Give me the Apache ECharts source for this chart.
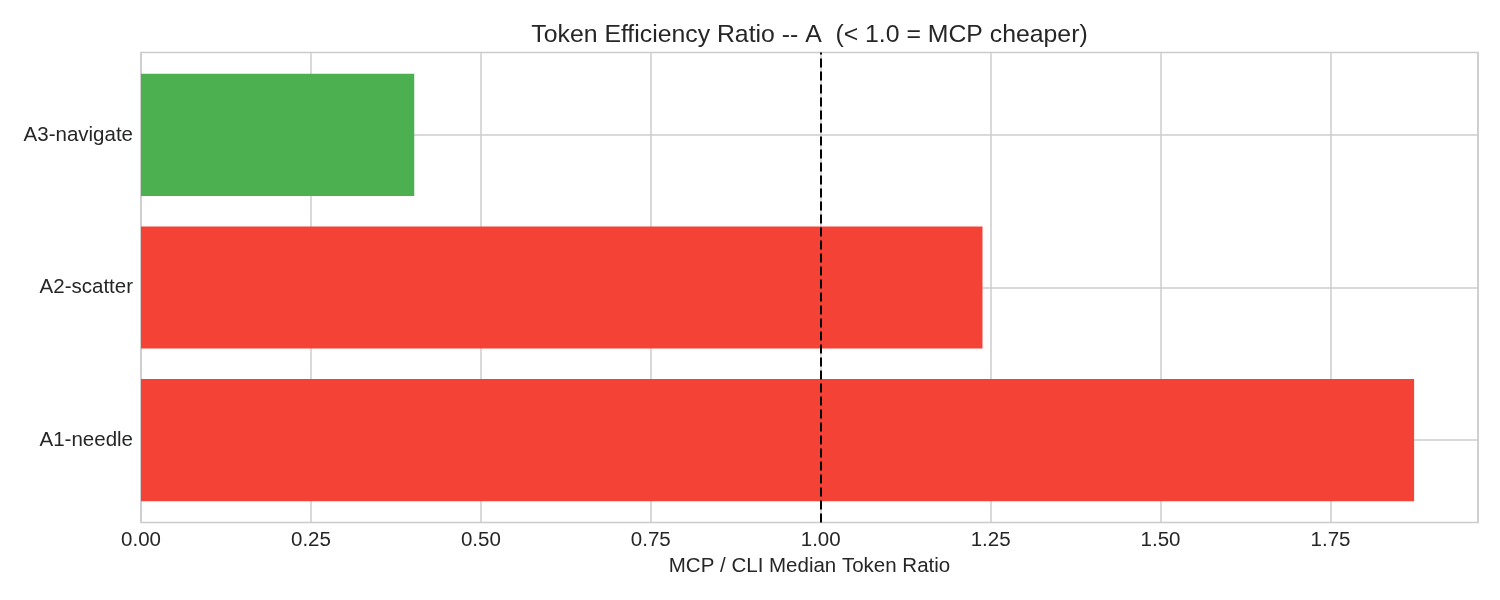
<!DOCTYPE html>
<html>
<head>
<meta charset="utf-8">
<script src="https://cdn.jsdelivr.net/npm/echarts@6/dist/echarts.min.js"></script>
<style>
  html, body { margin: 0; padding: 0; background: #fff; }
  #chart { width: 1500px; height: 600px; }
</style>
</head>
<body>
<div id="chart"></div>
<script>
// data
var categories = ['A1-needle', 'A2-scatter', 'A3-navigate'];
var ratios = [1.873, 1.238, 0.402];
var breakEven = 1.0;
var xMax = 1.967;

var font = '"Liberation Sans", Arial, sans-serif';
var textColor = '#262626';
var gridColor = '#cccccc';

var chart = echarts.init(document.getElementById('chart'));

var option = {
  animation: false,
  title: {
    text: 'Token Efficiency Ratio -- A  (< 1.0 = MCP cheaper)',
    left: 809.5,
    top: 23,
    padding: 0,
    textAlign: 'center',
    textStyle: {
      color: textColor,
      fontFamily: font,
      fontSize: 24.8,
      fontWeight: 'normal'
    }
  },
  // grid 0: axes frame, x ticks and vertical grid lines
  // grid 1: the bars, inset by matplotlib's 5% y margin
  grid: [{
    left: 141,
    right: 22,
    top: 52.5,
    bottom: 77.5,
    show: true,
    borderColor: gridColor,
    borderWidth: 1.5,
    backgroundColor: 'transparent'
  }, {
    left: 141,
    right: 22,
    top: 58.6,
    bottom: 83.6
  }],
  xAxis: [{
    gridIndex: 0,
    type: 'value',
    min: 0,
    max: xMax,
    interval: 0.25,
    name: 'MCP / CLI Median Token Ratio',
    nameLocation: 'middle',
    nameGap: 33,
    nameTextStyle: {
      color: textColor,
      fontFamily: font,
      fontSize: 20.5
    },
    axisLine: { show: false },
    axisTick: { show: false },
    axisLabel: {
      color: textColor,
      fontFamily: font,
      fontSize: 20.5,
      margin: 7,
      showMaxLabel: false,
      formatter: function (v) { return v.toFixed(2); }
    },
    splitLine: {
      show: true,
      lineStyle: { color: gridColor, width: 1.5 }
    }
  }, {
    gridIndex: 1,
    type: 'value',
    min: 0,
    max: xMax,
    show: false
  }],
  yAxis: [{
    gridIndex: 0,
    type: 'value',
    min: 0,
    max: 1,
    show: false
  }, {
    gridIndex: 1,
    type: 'category',
    data: categories,
    axisLine: { show: false },
    axisTick: { show: false },
    axisLabel: {
      color: textColor,
      fontFamily: font,
      fontSize: 20.5,
      margin: 8,
      padding: [9, 0, 0, 0]
    },
    splitLine: {
      show: true,
      alignWithLabel: true,
      lineStyle: { color: gridColor, width: 1.5 }
    }
  }],
  series: [{
    type: 'bar',
    xAxisIndex: 1,
    yAxisIndex: 1,
    barCategoryGap: '20%',
    data: ratios.map(function (v) {
      return {
        value: v,
        itemStyle: { color: v < breakEven ? '#4CAF50' : '#F44336' }
      };
    })
  }, {
    type: 'line',
    xAxisIndex: 0,
    yAxisIndex: 0,
    data: [],
    z: 5,
    markLine: {
      silent: true,
      symbol: 'none',
      label: { show: false },
      lineStyle: { color: '#000000', width: 2, type: [9, 4] },
      data: [{ xAxis: breakEven }]
    }
  }]
};

chart.setOption(option);
</script>
</body>
</html>
